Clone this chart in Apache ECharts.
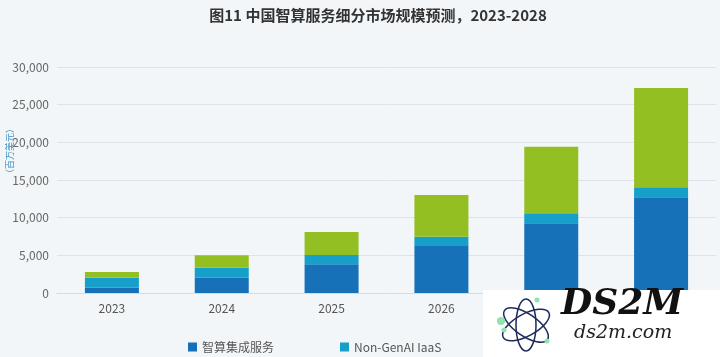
<!DOCTYPE html>
<html>
<head>
<meta charset="utf-8">
<script src="https://cdn.jsdelivr.net/npm/echarts@6/dist/echarts.min.js"></script>
<style>
html,body{margin:0;padding:0;background:#f2f6f9;}
#chart{width:720px;height:357px;}
</style>
</head>
<body>
<div id="chart"></div>
<script>
var title = '图11 中国智算服务细分市场规模预测，2023-2028';
var years = ['2023', '2024', '2025', '2026', '2027', '2028'];
var seriesNames = ['智算集成服务', 'Non-GenAI IaaS', 'GenAI IaaS'];
var integration = [700, 2030, 3800, 6240, 9250, 12700];
var nonGenAI = [1330, 1330, 1240, 1240, 1330, 1330];
var genAI = [770, 1640, 3060, 5520, 8820, 13170];
var yTicks = [0, 5000, 10000, 15000, 20000, 25000, 30000];
var yUnit = '（百万美元）';

var colors = ['#1771b9', '#16a0c9', '#94bf22'];
var font = '"Noto Sans CJK SC", "Noto Sans", sans-serif';

var chart = echarts.init(document.getElementById('chart'));
function fmt(v) { return String(v).replace(/\B(?=(\d{3})+(?!\d))/g, ','); }

var data = [integration, nonGenAI, genAI];
chart.setOption({
  backgroundColor: '#f2f6f9',
  animation: false,
  title: {
    text: title, left: 373, top: 3, textAlign: 'center',
    textStyle: { fontFamily: font, fontSize: 15, fontWeight: 'bold', color: '#333' }
  },
  legend: {
    left: 183, top: 336, itemWidth: 9, itemHeight: 9, itemGap: 66,
    icon: 'rect',
    textStyle: { fontFamily: font, fontSize: 12, color: '#555' },
    data: seriesNames
  },
  grid: { left: 57, right: 4, top: 67, bottom: 64 },
  xAxis: {
    type: 'category', data: years,
    axisLine: { lineStyle: { color: '#d5dbe0' } },
    axisTick: { show: false },
    axisLabel: { fontFamily: font, fontSize: 12, color: '#555', margin: 9 }
  },
  yAxis: {
    type: 'value', min: yTicks[0], max: yTicks[yTicks.length - 1], interval: yTicks[1] - yTicks[0],
    axisLine: { show: false }, axisTick: { show: false },
    splitLine: { lineStyle: { color: '#dde3e8' } },
    axisLabel: { fontFamily: font, fontSize: 12, color: '#666', margin: 8, formatter: fmt }
  },
  series: seriesNames.map(function (n, i) {
    return { name: n, type: 'bar', stack: 'total', barWidth: 54, data: data[i],
      itemStyle: { color: colors[i] } };
  }),
  graphic: [
    { type: 'text', x: 10, y: 151, rotation: Math.PI / 2, z: 10,
      style: { text: yUnit, fontFamily: font, fontSize: 9, fill: '#3d8fc4', align: 'center', verticalAlign: 'middle' } },
    { type: 'rect', z: 100, shape: { x: 483, y: 290, width: 237, height: 67 },
      style: { fill: '#ffffff' } },
    { type: 'ellipse', z: 101, x: 526, y: 325, rotation: 0.5, shape: { cx: 0, cy: 0, rx: 26, ry: 11 },
      style: { fill: 'none', stroke: '#1e2a5a', lineWidth: 1.5 } },
    { type: 'ellipse', z: 101, x: 526, y: 325, rotation: -0.6, shape: { cx: 0, cy: 0, rx: 26, ry: 11 },
      style: { fill: 'none', stroke: '#1e2a5a', lineWidth: 1.5 } },
    { type: 'ellipse', z: 101, x: 526, y: 325, rotation: 1.57, shape: { cx: 0, cy: 0, rx: 26, ry: 10 },
      style: { fill: 'none', stroke: '#1e2a5a', lineWidth: 1.5 } },
    { type: 'circle', z: 102, shape: { cx: 501, cy: 321, r: 4 }, style: { fill: '#8fe3b0' } },
    { type: 'circle', z: 102, shape: { cx: 537, cy: 300, r: 2.5 }, style: { fill: '#8fe3b0' } },
    { type: 'circle', z: 102, shape: { cx: 547, cy: 341, r: 2.5 }, style: { fill: '#8fe3b0' } },
    { type: 'circle', z: 102, shape: { cx: 504, cy: 330, r: 2.5 }, style: { fill: '#8fe3b0' } },
    { type: 'text', z: 101, left: 561, top: 287,
      style: { text: 'DS2M', fontFamily: 'DejaVu Serif', fontSize: 36, fontStyle: 'italic', fontWeight: 'bold', fill: '#111' } },
    { type: 'text', z: 101, left: 574, top: 324,
      style: { text: 'ds2m.com', fontFamily: 'DejaVu Serif', fontSize: 19, fontStyle: 'italic', fill: '#222' } }
  ]
});
</script>
</body>
</html>
